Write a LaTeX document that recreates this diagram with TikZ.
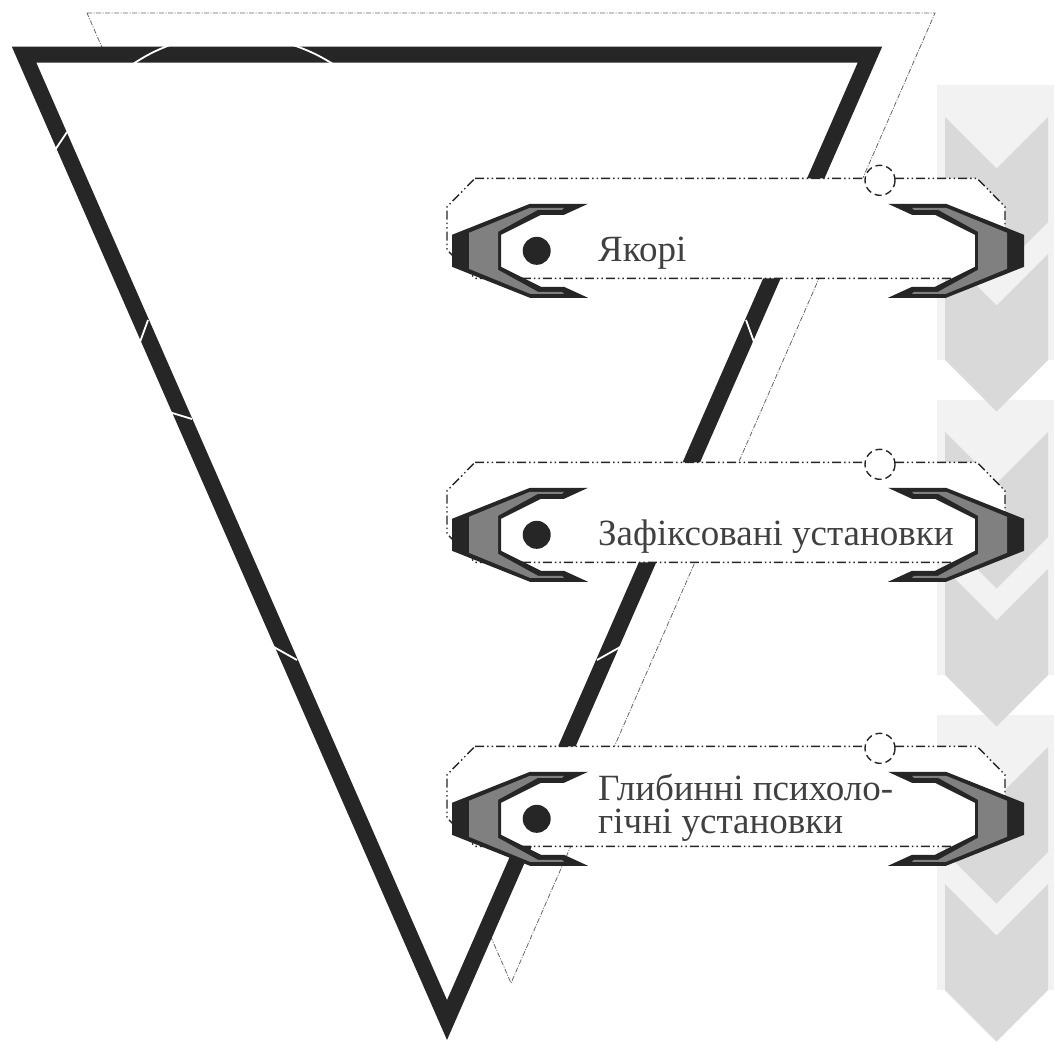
\documentclass[tikz,border=0pt]{standalone}
\usepackage{fontspec}
\setmainfont{Liberation Serif}
\definecolor{dark}{HTML}{262626}
\definecolor{midgray}{HTML}{808080}
\definecolor{pale}{HTML}{F2F2F2}
\definecolor{chev}{HTML}{D9D9D9}
\definecolor{ink}{HTML}{404040}
\definecolor{shade}{HTML}{666666}

\begin{document}
\begin{tikzpicture}[x=1pt,y=-1pt]
	 \tikzstyle{tri}=[draw=dark,fill=white,line width=16pt,line join=miter]
	 \tikzstyle{ghost}=[draw=shade,line width=0.8pt,dash pattern=on 5pt off 1.5pt on 1pt off 1.5pt]
	 \tikzstyle{notch}=[draw=white,line width=1.8pt]
	 \tikzstyle{callout}=[draw=dark,fill=white,line width=1.4pt,dash pattern=on 9pt off 3pt on 1.5pt off 3pt on 1.5pt off 3pt]
	 \tikzstyle{ring}=[draw=dark,fill=white,line width=1.4pt,dash pattern=on 7pt off 4pt]
	 \tikzstyle{boxtext}=[anchor=base west,inner sep=0pt,text=ink,font=\fontsize{37}{33}\selectfont]
	 \tikzset{brk/.pic={
	   \fill[dark] (0,-47) -- (58,-47) -- (136,-16) -- (136,16) -- (58,47) -- (0,47) -- (24,36) -- (47,36) -- (87,16) -- (87,-16) -- (47,-36) -- (24,-36) -- cycle;
	   \fill[midgray] (24,-43) -- (58,-43) -- (119,-18) -- (119,18) -- (58,43) -- (24,43) -- (26,41) -- (50,41) -- (90,19) -- (90,-19) -- (50,-41) -- (26,-41) -- cycle;
	 }}
	 \useasboundingbox (0,0) rectangle (1054,1042);
	 % chevron band, lowest group first so the tips lie on top
	 \fill[pale] (937,715) rectangle (1054,990);
	 \fill[chev] (945,747) -- (996.5,798.5) -- (1048,747) -- (1048,852) -- (996.5,903.5) -- (945,852) -- cycle;
	 \fill[chev] (945,884) -- (996.5,935.5) -- (1048,884) -- (1048,990) -- (996.5,1041.5) -- (945,990) -- cycle;
	 \fill[pale] (937,400) rectangle (1054,675);
	 \fill[chev] (945,432) -- (996.5,483.5) -- (1048,432) -- (1048,537) -- (996.5,588.5) -- (945,537) -- cycle;
	 \fill[chev] (945,569) -- (996.5,620.5) -- (1048,569) -- (1048,675) -- (996.5,726.5) -- (945,675) -- cycle;
	 \fill[pale] (937,85) rectangle (1054,360);
	 \fill[chev] (945,117) -- (996.5,168.5) -- (1048,117) -- (1048,222) -- (996.5,273.5) -- (945,222) -- cycle;
	 \fill[chev] (945,254) -- (996.5,305.5) -- (1048,254) -- (1048,360) -- (996.5,411.5) -- (945,360) -- cycle;
	 % triangles
	 \draw[ghost] (87,13) -- (935,13) -- (511,983) -- cycle;
	 \draw[tri] (24,54.5) -- (870,54.5) -- (447,1020) -- cycle;
	 \draw[notch] (133,64) to[bend left=6] (170,45);
	 \draw[notch] (293,45) to[bend left=6] (333,64);
	 \draw[notch] (67,132) -- (55,150);
	 \draw[notch] (148,320) -- (140,342);
	 \draw[notch] (169,412) -- (192,419);
	 \draw[notch] (272,646) -- (297,660);
	 \draw[notch] (746,320) -- (754,342);
	 \draw[notch] (622,646) -- (597,660);
	 % boxes
	 \begin{scope}[shift={(0,250.8)}]
	   \draw[callout] (475,-72.5) -- (977,-72.5) -- (1005,-44) -- (1005,-1) -- (977,27.5) -- (475,27.5) -- (447,-1) -- (447,-44) -- cycle;
	   \draw[ring] (880,-70.5) circle (15);
	   \pic at (888,0) {brk};
	   \pic[xscale=-1] at (588,0) {brk};
	   \fill[dark] (536.7,0) circle (14);
	   \node[boxtext] (anchors) at (598,11) {Якорі};
	 \end{scope}
	 \begin{scope}[shift={(0,534.8)}]
	   \draw[callout] (475,-72.5) -- (977,-72.5) -- (1005,-44) -- (1005,-1) -- (977,27.5) -- (475,27.5) -- (447,-1) -- (447,-44) -- cycle;
	   \draw[ring] (880,-70.5) circle (15);
	   \pic at (888,0) {brk};
	   \pic[xscale=-1] at (588,0) {brk};
	   \fill[dark] (536.7,0) circle (14);
	   \node[boxtext] (fixed) at (598,11) {Зафіксовані установки};
	 \end{scope}
	 \begin{scope}[shift={(0,818.8)}]
	   \draw[callout] (475,-72.5) -- (977,-72.5) -- (1005,-44) -- (1005,-1) -- (977,27.5) -- (475,27.5) -- (447,-1) -- (447,-44) -- cycle;
	   \draw[ring] (880,-70.5) circle (15);
	   \pic at (888,0) {brk};
	   \pic[xscale=-1] at (588,0) {brk};
	   \fill[dark] (536.7,0) circle (14);
	   \node[boxtext,align=left] (deep) at (598,14.5) {Глибинні психоло-\\гічні установки};
	 \end{scope}
\end{tikzpicture}
\end{document}
